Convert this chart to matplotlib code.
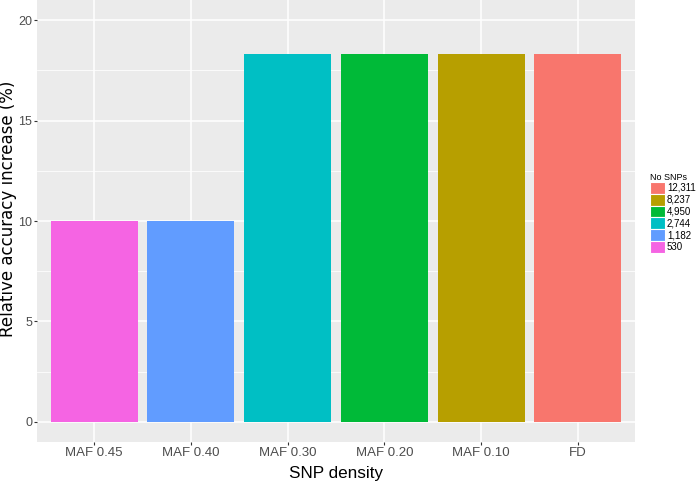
import matplotlib
matplotlib.use("Agg")
import matplotlib.pyplot as plt
from matplotlib.patches import Patch

categories = ["MAF 0.45", "MAF 0.40", "MAF 0.30", "MAF 0.20", "MAF 0.10", "FD"]
values = [10.0, 10.0, 18.33, 18.33, 18.33, 18.33]
snp_labels = ["530", "1,182", "2,744", "4,950", "8,237", "12,311"]
colors = ["#F564E3", "#619CFF", "#00BFC4", "#00BA38", "#B79F00", "#F8766D"]

plt.rcParams['font.family'] = ['Liberation Sans', 'DejaVu Sans']

fig = plt.figure(figsize=(6.97, 4.84), dpi=100)
ax = fig.add_axes([37/697, 42/484, (635-37)/697, 442/484])
ax.set_facecolor("#EBEBEB")

x = list(range(len(categories)))
bars = ax.bar(x, values, width=0.9, color=colors, zorder=3)

ax.set_xlim(-0.59, 5.59)
ax.set_ylim(-1.0, 21.0)
ax.set_yticks([0, 5, 10, 15, 20])
ax.set_yticks([2.5, 7.5, 12.5, 17.5], minor=True)
ax.set_xticks(x)
ax.set_xticklabels(categories)
ax.grid(which="major", color="white", linewidth=1.1, zorder=0)
ax.grid(which="minor", axis="y", color="white", linewidth=0.55, zorder=0)
ax.tick_params(which="minor", length=0)
ax.tick_params(which="major", length=2, width=0.8, color="#333333",
               labelsize=9.5, labelcolor="#4D4D4D", pad=1.5)
ax.tick_params(axis="y", labelsize=9)
for s in ax.spines.values():
    s.set_visible(False)

ax.set_xlabel("SNP density", fontsize=12.3, labelpad=5)
fig.text(8/697, 1 - 209/484, "Relative accuracy increase (%)", rotation=90,
         fontsize=12, family=["DejaVu Sans"], ha="center", va="center")

handles = [Patch(facecolor=c, edgecolor="white", linewidth=0.8) for c in colors][::-1]
labels = snp_labels[::-1]
leg = fig.legend(handles, labels, title="No SNPs", loc="upper left",
                 bbox_to_anchor=(643/697, 1 - 166/484), frameon=False,
                 fontsize=7, title_fontsize=6.5, handlelength=1.55, handleheight=1.5,
                 handletextpad=0.2, labelspacing=0.0, borderpad=0.2)
leg._legend_box.align = "left"

fig.savefig("out.png", dpi=100)
